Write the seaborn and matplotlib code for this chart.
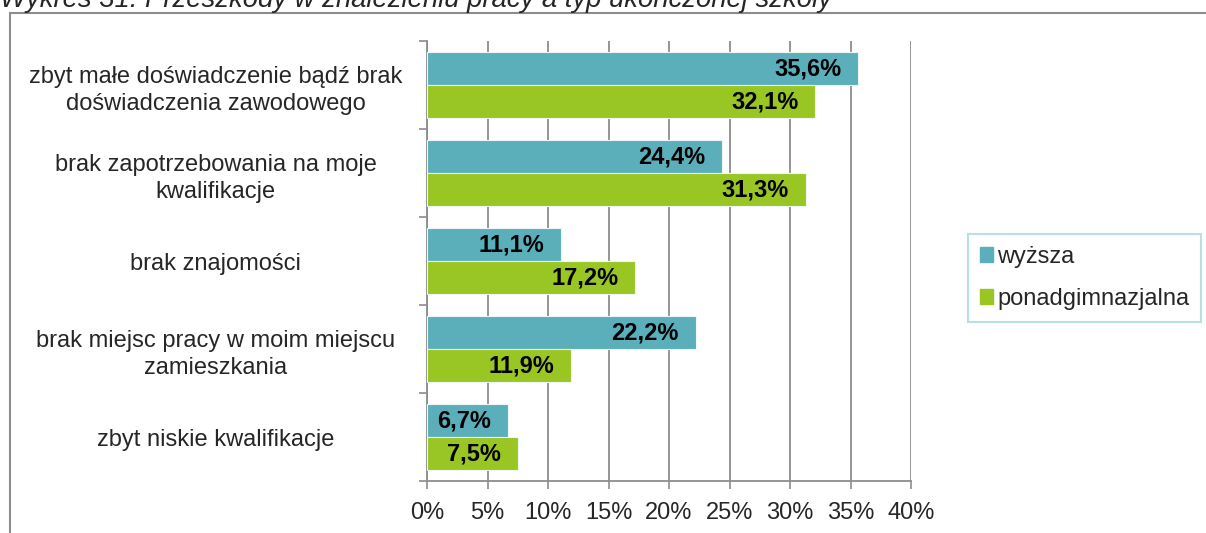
import pandas as pd
import matplotlib.pyplot as plt
import seaborn as sns
from matplotlib.patches import Rectangle
from matplotlib.ticker import FixedLocator

# Data
categories = [
    "zbyt małe doświadczenie bądź brak\ndoświadczenia zawodowego",
    "brak zapotrzebowania na moje\nkwalifikacje",
    "brak znajomości",
    "brak miejsc pracy w moim miejscu\nzamieszkania",
    "zbyt niskie kwalifikacje",
]
wyzsza = [35.6, 24.4, 11.1, 22.2, 6.7]
ponadgimnazjalna = [32.1, 31.3, 17.2, 11.9, 7.5]
series_names = ["wyższa", "ponadgimnazjalna"]
x_ticks = [0, 5, 10, 15, 20, 25, 30, 35, 40]
title = "Wykres 31: Przeszkody w znalezieniu pracy a typ ukończonej szkoły"

teal = "#5AAFBA"
green = "#99C623"
grid_grey = "#8C8C8C"
fs = 17

df = pd.DataFrame({
    "kategoria": categories * 2,
    "wartosc": wyzsza + ponadgimnazjalna,
    "szkola": [series_names[0]] * len(categories) + [series_names[1]] * len(categories),
})

sns.set_theme(style="white")
plt.rcParams["font.family"] = ["Liberation Sans", "DejaVu Sans"]

fig = plt.figure(figsize=(12.06, 5.33), dpi=100)
ax = fig.add_axes([427 / 1206, 1 - 481 / 533, (911 - 427) / 1206, 440 / 533])

sns.barplot(data=df, y="kategoria", x="wartosc", hue="szkola", orient="h",
            palette=[teal, green], saturation=1, width=0.75, ax=ax,
            edgecolor="#EEF6F6", linewidth=0.8, legend=False, zorder=3)

ax.set_xlim(0, 40)
ax.set_ylim(len(categories) - 0.5, -0.5)
ax.set_xticks(x_ticks)
ax.set_xticklabels([f"{t}%" for t in x_ticks], fontsize=fs)
ax.set_xlabel("")
ax.set_ylabel("")
ax.set_yticks(range(len(categories)))
ax.set_yticklabels(categories, fontsize=fs, ha="center", multialignment="center",
                   linespacing=1.3)
ax.tick_params(axis="y", length=0, pad=152)
ax.yaxis.set_minor_locator(FixedLocator([i - 0.5 for i in range(len(categories) + 1)]))
ax.tick_params(axis="y", which="minor", length=6, width=1.2, color=grid_grey, left=True)
ax.tick_params(axis="x", length=6, width=1.2, color=grid_grey, bottom=True, pad=9)

ax.grid(axis="x", color=grid_grey, linewidth=1.3, zorder=0)
ax.grid(axis="y", visible=False)
ax.set_axisbelow(True)
for side in ["top", "right"]:
    ax.spines[side].set_visible(False)
for side in ["left", "bottom"]:
    ax.spines[side].set_color(grid_grey)
    ax.spines[side].set_linewidth(1.3)

# value labels, inside end
for cont in ax.containers:
    for bar in cont:
        w = bar.get_width()
        ax.annotate(f"{w:.1f}%".replace(".", ","),
                    (w, bar.get_y() + bar.get_height() / 2),
                    xytext=(-12, 0), textcoords="offset points",
                    ha="right", va="center", fontsize=fs, fontweight="bold",
                    color="black", zorder=4)

# legend
leg = fig.legend(
    handles=[Rectangle((0, 0), 1, 1, color=teal), Rectangle((0, 0), 1, 1, color=green)],
    labels=series_names, loc="upper left",
    bbox_to_anchor=(968 / 1206, 1 - 234 / 533), bbox_transform=fig.transFigure,
    fontsize=fs, frameon=True, fancybox=False, handlelength=0.55, handleheight=0.55,
    handletextpad=0.2, labelspacing=0.85, borderpad=0.5, borderaxespad=0)
leg.get_frame().set_edgecolor("#A8D8DC")
leg.get_frame().set_linewidth(1.5)

# outer chart frame
fig.add_artist(plt.Line2D([9.5 / 1206, 9.5 / 1206], [0, 1 - 12.5 / 533],
                          transform=fig.transFigure, color=grid_grey, lw=1.5))
fig.add_artist(plt.Line2D([9.5 / 1206, 1], [1 - 12.5 / 533, 1 - 12.5 / 533],
                          transform=fig.transFigure, color=grid_grey, lw=1.5))

# title, cut off at the top in the original
fig.text(0.0, 1 - 7 / 533, title, fontsize=19.8, style="italic", va="baseline", ha="left")

fig.savefig("out.png", dpi=100)
